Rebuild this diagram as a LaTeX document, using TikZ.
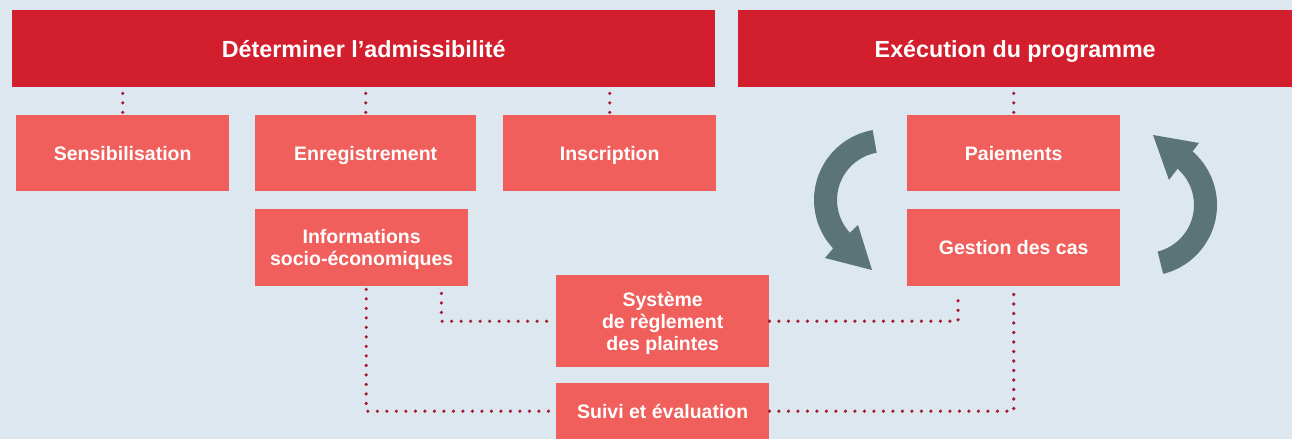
\documentclass[tikz,border=0pt]{standalone}
\usepackage{fontspec}
\setmainfont{Liberation Sans}
\usetikzlibrary{calc}
\definecolor{bg}{HTML}{DDE7EF}
\definecolor{hdrred}{HTML}{D31F2D}
\definecolor{boxred}{HTML}{F05F5B}
\definecolor{dotred}{HTML}{A31D2E}
\definecolor{arrowc}{HTML}{5B7478}
\begin{document}
\begin{tikzpicture}[x=1pt,y=-1pt,
  hdr/.style={fill=hdrred, text=white, font=\fontsize{23.3}{28}\selectfont\bfseries, inner sep=0pt, anchor=north west, text height=16.7pt, text depth=0pt},
  box/.style={fill=boxred, text=white, font=\fontsize{19.5}{22}\selectfont\bfseries, inner sep=0pt, anchor=north west, text height=14pt, text depth=0pt},
  mbox/.style={fill=boxred, inner sep=0pt, anchor=north west},
  mlab/.style={text=white, font=\fontsize{19.5}{22}\selectfont\bfseries, align=center, inner sep=0pt, yshift=-2pt},
  dots/.style={draw=dotred, line width=3.6pt, line cap=round, dash pattern=on 0pt off 9.5pt}]
\useasboundingbox[fill=bg] (0,0) rectangle (1292,439);

\node[hdr, minimum width=703pt, minimum height=77pt] (h1) at (12,10) {Déterminer l’admissibilité};
\node[hdr, minimum width=554pt, minimum height=77pt] (h2) at (738,10) {Exécution du programme};

\node[box, minimum width=213pt, minimum height=76pt] (sens) at (16,115) {Sensibilisation};
\node[box, minimum width=221pt, minimum height=76pt] (enr) at (255,115) {Enregistrement};
\node[box, minimum width=213pt, minimum height=76pt] (insc) at (503,115) {Inscription};
\node[box, minimum width=213pt, minimum height=76pt] (pai) at (907,115) {Paiements};
\node[mbox, minimum width=213pt, minimum height=77pt,
  label={[mlab]center:Informations\\socio-économiques}] (info) at (255,209) {};
\node[box, minimum width=213pt, minimum height=77pt] (gest) at (907,209) {Gestion des cas};
\node[mbox, minimum width=213pt, minimum height=92pt,
  label={[mlab]center:Système\\de règlement\\des plaintes}] (sys) at (556,275) {};
\node[box, minimum width=213pt, minimum height=56pt] (suivi) at (556,383) {Suivi et évaluation};

% top connectors
\draw[dots] ($(h1.south -| sens.north)+(0,6)$) -- (sens.north);
\draw[dots] ($(h1.south -| enr.north)+(0,6)$) -- (enr.north);
\draw[dots] ($(h1.south -| insc.north)+(0,6)$) -- (insc.north);
\draw[dots] ($(h2.south -| pai.north)+(0,6)$) -- (pai.north);

% lower connectors
\coordinate (a1) at ($(info.south east)+(-27,7)$);
\coordinate (a2) at ($(info.south)+(4.5,3)$);
\coordinate (b1) at ($(gest.south west)+(51,7)$);
\coordinate (b2) at ($(gest.south)+(0,3)$);
\draw[dots] (a1) -- (a1 |- sys.west) -- (sys.west);
\draw[dots] (a2) -- (a2 |- suivi.west) -- (suivi.west);
\draw[dots] (sys.east) -- (sys.east -| b1) -- (b1);
\draw[dots] (suivi.east) -- (suivi.east -| b2) -- (b2);

% circular arrows
\coordinate (c1) at (885,200);
\fill[arrowc] ($(c1)+(260:71)$) arc[start angle=260, end angle=137, radius=71]
  -- (825,258) -- (872,270) -- (858,225)
  -- ($(c1)+(137:48)$) arc[start angle=137, end angle=260, radius=48] -- cycle;
\coordinate (c2) at (1146,205);
\fill[arrowc] ($(c2)+(76:71)$) arc[start angle=76, end angle=-49, radius=71]
  -- (1199,143) -- (1153,135) -- (1169,180)
  -- ($(c2)+(-49:48)$) arc[start angle=-49, end angle=76, radius=48] -- cycle;
\end{tikzpicture}
\end{document}
